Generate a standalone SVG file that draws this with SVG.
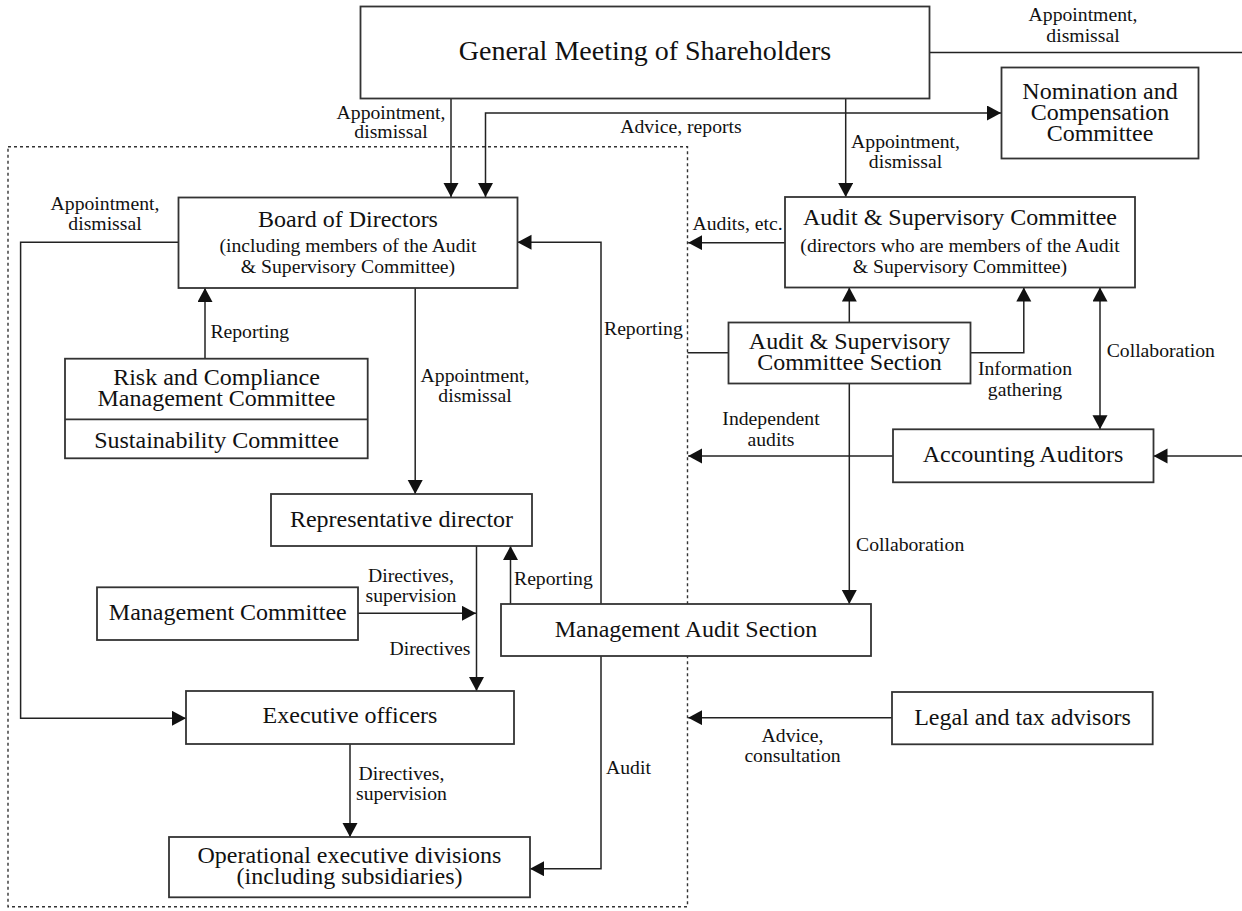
<svg xmlns="http://www.w3.org/2000/svg" width="1242" height="911" viewBox="0 0 1242 911">
<defs>
<marker id="ah" markerUnits="userSpaceOnUse" markerWidth="16" markerHeight="16" refX="14" refY="7.5" orient="auto-start-reverse" viewBox="0 0 16 16">
<path d="M0,0 L14,7.5 L0,15 Z" fill="#111"/>
</marker>
<style>
.box{fill:#fff;stroke:#333;stroke-width:1.8}
.t28{font-family:"Liberation Serif","Times New Roman",serif;font-size:28px;fill:#111;text-anchor:middle}
.t24{font-family:"Liberation Serif","Times New Roman",serif;font-size:24px;fill:#111;text-anchor:middle}
.t20{font-family:"Liberation Serif","Times New Roman",serif;font-size:19.7px;fill:#111;text-anchor:middle}
.lbl{font-family:"Liberation Serif","Times New Roman",serif;font-size:19.7px;fill:#111}
.mid{text-anchor:middle}
.c{fill:none;stroke:#222;stroke-width:1.5}
.a{marker-end:url(#ah)}
.b{marker-start:url(#ah);marker-end:url(#ah)}
.dot{fill:none;stroke:#333;stroke-width:1.4;stroke-dasharray:3 3}
</style>
</defs>
<rect class="dot" x="8" y="146.7" width="679.5" height="760"/>
<g id="connectors">
<path class="c a" d="M451,98.5 V197"/>
<path class="c b" d="M485.5,197 V113 H1001"/>
<path class="c a" d="M845.7,98.5 V197"/>
<path class="c" d="M929.5,52.5 H1242"/>
<path class="c a" d="M178.5,242.3 H20.6 V718.3 H186"/>
<path class="c a" d="M601,604 V242.3 H517.5"/>
<path class="c a" d="M785,242.7 H688.2"/>
<path class="c a" d="M205,358.7 V288"/>
<path class="c a" d="M415.2,288 V494"/>
<path class="c a" d="M849.3,322.5 V287.5"/>
<path class="c" d="M728.5,352.7 H687.5"/>
<path class="c a" d="M970.5,352.7 H1023.8 V287.5"/>
<path class="c b" d="M1100,287.5 V429.3"/>
<path class="c a" d="M1242,456 H1153.5"/>
<path class="c a" d="M893,456 H688.2"/>
<path class="c a" d="M849.3,383.5 V604"/>
<path class="c a" d="M476.5,546 V691"/>
<path class="c a" d="M358,613.3 H476"/>
<path class="c a" d="M510.5,604 V546"/>
<path class="c a" d="M350,744 V837"/>
<path class="c a" d="M601,656 V868.7 H530"/>
<path class="c a" d="M892,717.7 H688.2"/>
</g>
<g id="labels">
<text class="lbl mid" x="391" y="119">Appointment,</text>
<text class="lbl mid" x="391" y="138">dismissal</text>
<text class="lbl mid" x="1083" y="21">Appointment,</text>
<text class="lbl mid" x="1083" y="41.5">dismissal</text>
<text class="lbl mid" x="905.5" y="148">Appointment,</text>
<text class="lbl mid" x="905.5" y="168">dismissal</text>
<text class="lbl mid" x="681" y="133">Advice, reports</text>
<text class="lbl mid" x="105" y="209.5">Appointment,</text>
<text class="lbl mid" x="105" y="230">dismissal</text>
<text class="lbl mid" x="737.6" y="230">Audits, etc.</text>
<text class="lbl" x="210.4" y="337.5">Reporting</text>
<text class="lbl" x="604" y="335">Reporting</text>
<text class="lbl mid" x="475" y="382">Appointment,</text>
<text class="lbl mid" x="475" y="402">dismissal</text>
<text class="lbl mid" x="1025" y="375">Information</text>
<text class="lbl mid" x="1025" y="395.5">gathering</text>
<text class="lbl" x="1106.7" y="357.3">Collaboration</text>
<text class="lbl mid" x="771" y="425">Independent</text>
<text class="lbl mid" x="771" y="446">audits</text>
<text class="lbl" x="856" y="550.7">Collaboration</text>
<text class="lbl mid" x="411" y="581.7">Directives,</text>
<text class="lbl mid" x="411" y="601.7">supervision</text>
<text class="lbl" x="514" y="585">Reporting</text>
<text class="lbl mid" x="430" y="655">Directives</text>
<text class="lbl mid" x="401.5" y="780">Directives,</text>
<text class="lbl mid" x="401.5" y="800">supervision</text>
<text class="lbl" x="606" y="774">Audit</text>
<text class="lbl mid" x="792.5" y="741.7">Advice,</text>
<text class="lbl mid" x="792.5" y="761.7">consultation</text>
</g>
<g id="gm">
<rect class="box" x="360.5" y="6.5" width="569" height="92"/>
<text class="t28" x="645" y="60">General Meeting of Shareholders</text>
</g>
<g id="nomination">
<rect class="box" x="1001.5" y="67.5" width="197" height="91"/>
<text class="t24" x="1100" y="99">Nomination and</text>
<text class="t24" x="1100" y="120">Compensation</text>
<text class="t24" x="1100" y="140.7">Committee</text>
</g>
<g id="board">
<rect class="box" x="178.5" y="197.5" width="339" height="90.5"/>
<text class="t24" x="348" y="226.7">Board of Directors</text>
<text class="t20" x="348" y="252.3">(including members of the Audit</text>
<text class="t20" x="348" y="273.3">&amp; Supervisory Committee)</text>
</g>
<g id="asc">
<rect class="box" x="785" y="197" width="350" height="90.5"/>
<text class="t24" x="960" y="225">Audit &amp; Supervisory Committee</text>
<text class="t20" x="960" y="251.7">(directors who are members of the Audit</text>
<text class="t20" x="960" y="272.7">&amp; Supervisory Committee)</text>
</g>
<g id="asc-section">
<rect class="box" x="728.5" y="322.5" width="242" height="61"/>
<text class="t24" x="849.5" y="349">Audit &amp; Supervisory</text>
<text class="t24" x="849.5" y="370">Committee Section</text>
</g>
<g id="risk">
<rect class="box" x="65" y="358.7" width="302.7" height="99.6"/>
<line x1="65" y1="419.3" x2="367.7" y2="419.3" stroke="#333" stroke-width="1.8"/>
<text class="t24" x="216.5" y="385">Risk and Compliance</text>
<text class="t24" x="216.5" y="405.7">Management Committee</text>
<text class="t24" x="216.5" y="447.7">Sustainability Committee</text>
</g>
<g id="accounting">
<rect class="box" x="893" y="429.3" width="260.5" height="53"/>
<text class="t24" x="1023" y="462.3">Accounting Auditors</text>
</g>
<g id="rep">
<rect class="box" x="271" y="494" width="261" height="52"/>
<text class="t24" x="401.5" y="526.7">Representative director</text>
</g>
<g id="mgmt">
<rect class="box" x="97" y="587.3" width="261" height="52.7"/>
<text class="t24" x="227.8" y="620">Management Committee</text>
</g>
<g id="mas">
<rect class="box" x="501" y="604" width="370" height="52"/>
<text class="t24" x="686" y="636.7">Management Audit Section</text>
</g>
<g id="exec">
<rect class="box" x="186" y="691" width="328" height="53"/>
<text class="t24" x="350" y="723.3">Executive officers</text>
</g>
<g id="legal">
<rect class="box" x="892" y="692" width="260.7" height="52.3"/>
<text class="t24" x="1022.5" y="725">Legal and tax advisors</text>
</g>
<g id="operational">
<rect class="box" x="169" y="837" width="361" height="60.3"/>
<text class="t24" x="349.5" y="863.3">Operational executive divisions</text>
<text class="t24" x="349.5" y="884">(including subsidiaries)</text>
</g>
</svg>
